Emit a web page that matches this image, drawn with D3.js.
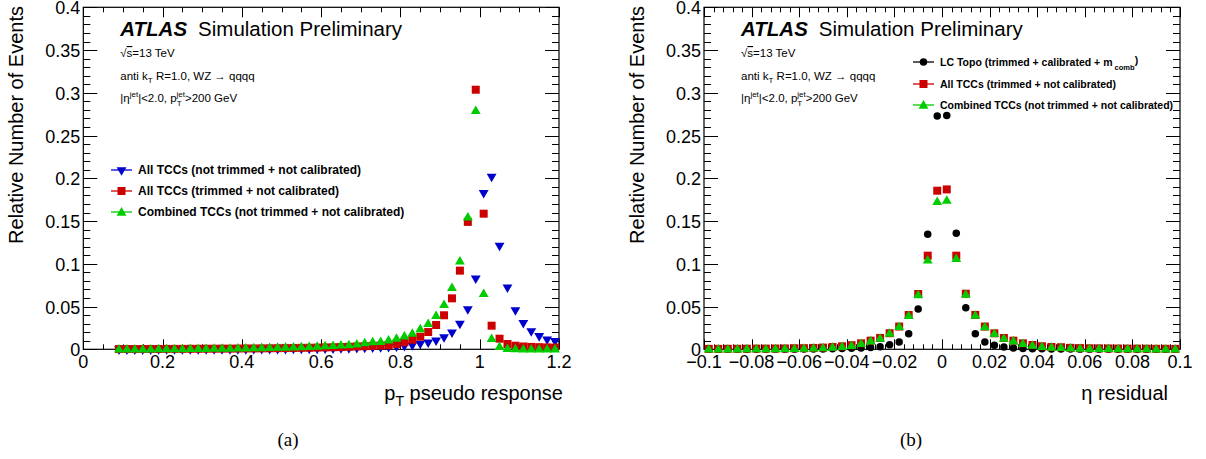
<!DOCTYPE html>
<html><head><meta charset="utf-8">
<script src="https://cdn.jsdelivr.net/npm/d3@7"></script>
<style>
html,body{margin:0;padding:0;background:#fff;}
svg{display:block;font-family:"Liberation Sans",Arial,sans-serif;}
</style></head>
<body><svg id="chart" width="1206" height="459"></svg>
<script>
// ---------- data ----------
const ptX = [0.09,0.11,0.13,0.15,0.17,0.19,0.21,0.23,0.25,0.27,0.29,0.31,0.33,0.35,0.37,0.39,0.41,0.43,0.45,0.47,0.49,0.51,0.53,0.55,0.57,0.59,0.61,0.63,0.65,0.67,0.69,0.71,
  0.73,0.75,0.77,0.79,0.81,0.83,0.85,0.87,0.89,0.91,0.93,0.95,0.97,0.99,1.01,1.03,1.05,1.07,1.09,1.11,1.13,1.15,1.17,1.19];
const ptAllNotTrimmed = [0.0001,0.0001,0.0001,0.0001,0.0001,0.0002,0.0002,0.0002,0.0002,0.0002,0.0003,0.0003,0.0003,0.0003,0.0004,0.0004,0.0004,0.0005,0.0005,0.0006,0.0006,0.0007,0.0008,0.0008,0.0009,0.0010,0.0011,0.0012,0.0014,0.0015,0.0017,0.0019,
  0.0022,0.0025,0.0030,0.0035,0.0042,0.0050,0.0066,0.0082,0.0105,0.0144,0.0199,0.0300,0.0471,0.0830,0.1830,0.2019,0.1212,0.0725,0.0460,0.0310,0.0214,0.0156,0.0117,0.0100];
const ptAllTrimmed = [0.0003,0.0003,0.0003,0.0004,0.0004,0.0004,0.0005,0.0005,0.0005,0.0006,0.0006,0.0007,0.0007,0.0008,0.0008,0.0009,0.0010,0.0010,0.0011,0.0012,0.0013,0.0014,0.0015,0.0017,0.0018,0.0020,0.0022,0.0024,0.0026,0.0029,0.0033,0.0036,
  0.0040,0.0044,0.0047,0.0062,0.0082,0.0112,0.0147,0.0202,0.0284,0.0398,0.0596,0.0920,0.1490,0.3036,0.1586,0.0276,0.0124,0.0062,0.0042,0.0033,0.0028,0.0025,0.0022,0.0020];
const ptCombined = [0.0004,0.0005,0.0005,0.0006,0.0006,0.0007,0.0008,0.0008,0.0009,0.0010,0.0011,0.0012,0.0013,0.0014,0.0015,0.0016,0.0018,0.0019,0.0021,0.0023,0.0025,0.0027,0.0029,0.0032,0.0035,0.0038,0.0042,0.0046,0.0051,0.0056,0.0064,0.0077,
  0.0089,0.0094,0.0109,0.0132,0.0156,0.0190,0.0241,0.0304,0.0398,0.0526,0.0725,0.1033,0.1550,0.2795,0.0655,0.0129,0.0035,0.0012,0.0008,0.0006,0.0005,0.0005,0.0004,0.0004];

const etaX = [-0.098,-0.094,-0.090,-0.086,-0.082,-0.078,-0.074,-0.070,-0.066,-0.062,-0.058,-0.054,-0.050,-0.046,-0.042,-0.038,-0.034,-0.030,-0.026,-0.022,-0.018,-0.014,-0.010,-0.006,-0.002,
  0.002,0.006,0.010,0.014,0.018,0.022,0.026,0.030,0.034,0.038,0.042,0.046,0.050,0.054,0.058,0.062,0.066,0.070,0.074,0.078,0.082,0.086,0.090,0.094,0.098];
const etaLCTopo = [0.0001,0.0001,0.0001,0.0001,0.0001,0.0001,0.0002,0.0002,0.0002,0.0002,0.0003,0.0003,
  0.0004,0.0006,0.0008,0.0011,0.0015,0.0020,0.0031,0.0052,0.0085,0.0183,0.0471,0.1345,0.2730,
  0.2735,0.1357,0.0487,0.0183,0.0085,0.0047,0.0027,0.0015,0.0010,0.0007,0.0005,0.0004,0.0003,
  0.0003,0.0002,0.0002,0.0002,0.0002,0.0001,0.0001,0.0001,0.0001,0.0001,0.0001,0.0001];
const etaAllTrimmed = [0.0005,0.0005,0.0006,0.0006,0.0007,0.0008,0.0008,0.0009,0.0010,0.0012,0.0013,0.0016,
  0.0020,0.0027,0.0035,0.0048,0.0070,0.0101,0.0133,0.0188,0.0266,0.0401,0.0647,0.1095,0.1855,
  0.1870,0.1095,0.0650,0.0402,0.0266,0.0187,0.0132,0.0101,0.0070,0.0050,0.0035,0.0027,0.0024,
  0.0017,0.0014,0.0012,0.0011,0.0010,0.0009,0.0008,0.0008,0.0007,0.0006,0.0006,0.0005];
const etaCombined = [0.0005,0.0005,0.0006,0.0006,0.0007,0.0008,0.0008,0.0009,0.0010,0.0011,0.0013,0.0016,
  0.0020,0.0027,0.0035,0.0047,0.0070,0.0100,0.0132,0.0190,0.0268,0.0398,0.0640,0.1045,0.1730,
  0.1746,0.1064,0.0645,0.0399,0.0265,0.0186,0.0131,0.0100,0.0070,0.0049,0.0035,0.0027,0.0023,
  0.0017,0.0014,0.0012,0.0011,0.0010,0.0009,0.0008,0.0008,0.0007,0.0006,0.0006,0.0005];

const yTicks = [0,0.05,0.1,0.15,0.2,0.25,0.3,0.35,0.4];
const yTickLabels = ["0","0.05","0.1","0.15","0.2","0.25","0.3","0.35","0.4"];
const ptTicks = [0,0.2,0.4,0.6,0.8,1.0,1.2];
const ptTickLabels = ["0","0.2","0.4","0.6","0.8","1","1.2"];
const etaTicks = [-0.1,-0.08,-0.06,-0.04,-0.02,0,0.02,0.04,0.06,0.08,0.1];
const etaTickLabels = ["\u22120.1","\u22120.08","\u22120.06","\u22120.04","\u22120.02","0","0.02","0.04","0.06","0.08","0.1"];

const leftLegend = ["All TCCs (not trimmed + not calibrated)","All TCCs (trimmed + not calibrated)","Combined TCCs (not trimmed + not calibrated)"];
const rightLegend = ["LC Topo (trimmed + calibrated + m","All TCCs (trimmed + not calibrated)","Combined TCCs (not trimmed + not calibrated)"];

// ---------- drawing ----------
const svg = d3.select("#chart");
const COL = {blue:"#0000cc", red:"#cc0000", green:"#00cc00", black:"#000000"};
const SYM = {
  down: d3.symbol().type(d3.symbolTriangle).size(42),
  up: d3.symbol().type(d3.symbolTriangle).size(42),
  square: d3.symbol().type(d3.symbolSquare).size(64),
  circle: d3.symbol().type(d3.symbolCircle).size(44)
};
function marker(g, kind, color, cx, cy) {
  const p = g.append("path").attr("d", SYM[kind]()).attr("fill", color);
  if (kind === "down") p.attr("transform", `translate(${cx},${cy}) rotate(180)`);
  else if (kind === "up") p.attr("transform", `translate(${cx},${cy+0.8})`);
  else p.attr("transform", `translate(${cx},${cy})`);
}

function panel(cfg) {
  const g = svg.append("g");
  const x = d3.scaleLinear().domain(cfg.xDomain).range([cfg.left, cfg.right]);
  const y = d3.scaleLinear().domain([0, 0.4]).range([349.3, 7.3]);
  const tickG = g.append("g").attr("stroke", "#000").attr("stroke-width", 1);
  const yMinor = d3.range(0, 0.4001, 0.01);
  yMinor.forEach(v => {
    const isMajor = Math.abs(Math.round(v / 0.05) * 0.05 - v) < 1e-6;
    const L = isMajor ? 14 : 7;
    const yy = Math.round(y(v)) + 0.5;
    tickG.append("line").attr("x1", cfg.left).attr("x2", cfg.left + L).attr("y1", yy).attr("y2", yy);
    tickG.append("line").attr("x1", cfg.right).attr("x2", cfg.right - L).attr("y1", yy).attr("y2", yy);
  });
  const xMin = d3.range(cfg.xDomain[0], cfg.xDomain[1] + cfg.minorStep / 2, cfg.minorStep);
  xMin.forEach(v => {
    const r = v / cfg.majorStep;
    const isMajor = Math.abs(Math.round(r) - r) < 1e-6;
    const L = isMajor ? 10 : 5;
    const xx = Math.round(x(v)) + 0.5;
    tickG.append("line").attr("x1", xx).attr("x2", xx).attr("y1", y(0)).attr("y2", y(0) - L);
    tickG.append("line").attr("x1", xx).attr("x2", xx).attr("y1", y(0.4)).attr("y2", y(0.4) + L);
  });
  g.append("rect").attr("x", cfg.left).attr("y", y(0.4)).attr("width", cfg.right - cfg.left)
    .attr("height", y(0) - y(0.4)).attr("fill", "none").attr("stroke", "#000").attr("stroke-width", 1.2);
  g.append("g").selectAll("text").data(yTicks).join("text")
    .attr("x", cfg.left - 3).attr("y", d => y(d) + 7).attr("text-anchor", "end")
    .attr("font-size", 18).text((d, i) => yTickLabels[i]);
  g.append("g").selectAll("text").data(cfg.xTicks).join("text")
    .attr("x", d => x(d)).attr("y", 368).attr("text-anchor", "middle")
    .attr("font-size", 18).text((d, i) => cfg.xTickLabels[i]);
  g.append("text").attr("transform", `translate(${cfg.left - 60},6) rotate(-90)`)
    .attr("text-anchor", "end").attr("font-size", 20).text("Relative Number of Events");
  const tx = cfg.left + 37;
  const at = g.append("text").attr("x", tx).attr("y", 36).attr("font-size", 20.5);
  at.append("tspan").attr("font-weight", "bold").attr("font-style", "italic").text("ATLAS");
  at.append("tspan").attr("dx", 11).text("Simulation Preliminary");
  const s1 = g.append("text").attr("x", tx).attr("y", 57).attr("font-size", 11.5);
  s1.append("tspan").text("\u221A");
  s1.append("tspan").attr("text-decoration", "overline").text("s");
  s1.append("tspan").text("=13 TeV");
  const s2 = g.append("text").attr("x", tx).attr("y", 80).attr("font-size", 11.5);
  s2.append("tspan").text("anti k");
  s2.append("tspan").attr("font-size", 8).attr("dy", 3).text("T");
  s2.append("tspan").attr("dy", -3).text(" R=1.0, WZ \u2192 qqqq");
  const s3 = g.append("text").attr("x", tx).attr("y", 102).attr("font-size", 11.5);
  s3.append("tspan").text("|\u03B7");
  s3.append("tspan").attr("font-size", 8).attr("dy", -5).text("jet");
  s3.append("tspan").attr("dy", 5).text("|<2.0, p");
  s3.append("tspan").attr("font-size", 8).attr("dy", 3.5).text("T");
  s3.append("tspan").attr("font-size", 8).attr("dx", -5).attr("dy", -9).text("jet");
  s3.append("tspan").attr("dy", 5.5).text(">200 GeV");
  cfg.series.forEach(s => {
    const sg = g.append("g");
    s.values.forEach((v, i) => {
      if (v == null) return;
      marker(sg, s.kind, s.color, x(cfg.xs[i]), y(v));
    });
  });
  cfg.legend.forEach((s, i) => {
    const ly = cfg.legY[i];
    const lg = g.append("g");
    lg.append("line").attr("x1", cfg.legX).attr("x2", cfg.legX + 21).attr("y1", ly).attr("y2", ly)
      .attr("stroke", s.color).attr("stroke-width", 1.3);
    marker(lg, s.kind, s.color, cfg.legX + 10.5, ly);
    const t = lg.append("text").attr("x", cfg.legX + 27).attr("y", ly + cfg.legFont * 0.36)
      .attr("font-size", cfg.legFont).attr("font-weight", "bold").text(s.label);
    if (s.sub) {
      t.append("tspan").attr("font-size", cfg.legFont * 0.72).attr("dy", 4).attr("dx", 2).text(s.sub);
      t.append("tspan").attr("dy", -6).text(")");
    }
  });
  const xt = g.append("text").attr("x", cfg.xTitleEnd).attr("y", 400).attr("text-anchor", "end").attr("font-size", 20);
  cfg.xTitle(xt);
  g.append("text").attr("x", cfg.capX).attr("y", 446).attr("text-anchor", "middle")
    .attr("font-family", "'Liberation Serif','DejaVu Serif',serif").attr("font-size", 19).text(cfg.caption);
}

panel({
  xDomain: [0, 1.2], left: 83.3, right: 559, majorStep: 0.2, minorStep: 0.05,
  xTicks: ptTicks, xTickLabels: ptTickLabels, xs: ptX,
  series: [
    {values: ptAllNotTrimmed, kind: "down", color: COL.blue},
    {values: ptAllTrimmed, kind: "square", color: COL.red},
    {values: ptCombined, kind: "up", color: COL.green}
  ],
  legend: [
    {label: leftLegend[0], kind: "down", color: COL.blue},
    {label: leftLegend[1], kind: "square", color: COL.red},
    {label: leftLegend[2], kind: "up", color: COL.green}
  ],
  legX: 111, legY: [170, 191, 212], legFont: 12,
  xTitleEnd: 563,
  xTitle: t => { t.append("tspan").text("p"); t.append("tspan").attr("font-size", 14).attr("dy", 6).text("T");
                 t.append("tspan").attr("dy", -6).text(" pseudo response"); },
  capX: 288, caption: "(a)"
});
panel({
  xDomain: [-0.1, 0.1], left: 704, right: 1180, majorStep: 0.02, minorStep: 0.004,
  xTicks: etaTicks, xTickLabels: etaTickLabels, xs: etaX,
  series: [
    {values: etaLCTopo, kind: "circle", color: COL.black},
    {values: etaAllTrimmed, kind: "square", color: COL.red},
    {values: etaCombined, kind: "up", color: COL.green}
  ],
  legend: [
    {label: rightLegend[0], sub: "comb", kind: "circle", color: COL.black},
    {label: rightLegend[1], kind: "square", color: COL.red},
    {label: rightLegend[2], kind: "up", color: COL.green}
  ],
  legX: 913, legY: [62, 84, 105], legFont: 10.5,
  xTitleEnd: 1168,
  xTitle: t => { t.text("\u03B7 residual"); },
  capX: 911, caption: "(b)"
});
</script></body></html>
